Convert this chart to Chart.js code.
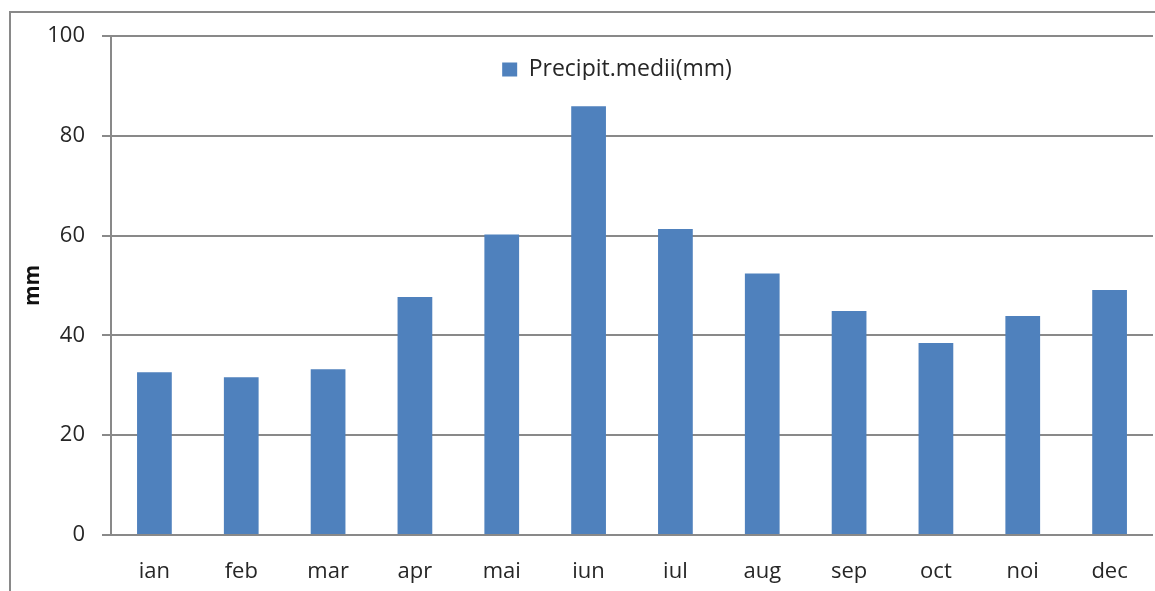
<!DOCTYPE html>
<html>
<head>
<meta charset="utf-8">
<script src="https://cdn.jsdelivr.net/npm/chart.js@4.4.1/dist/chart.umd.min.js"></script>
<style>
  html, body { margin: 0; padding: 0; background: #ffffff; }
  #wrap { width: 1155px; height: 591px; position: relative; }
</style>
</head>
<body>
<div id="wrap"><canvas id="c" width="1155" height="591"></canvas></div>
<script>
const categories = ['ian', 'feb', 'mar', 'apr', 'mai', 'iun', 'iul', 'aug', 'sep', 'oct', 'noi', 'dec'];
const precipitation = [32.6, 31.6, 33.2, 47.7, 60.2, 85.9, 61.3, 52.4, 44.9, 38.5, 43.9, 49.1];
const seriesLabel = 'Precipit.medii(mm)';
const yAxisTitle = 'mm';
const yTicks = [0, 20, 40, 60, 80, 100];

const FONT = '"Open Sans", "Noto Sans", sans-serif';
const GRAY = '#898989';
const TEXT = '#262626';

const frame = {
  id: 'frame',
  beforeDraw(chart) {
    const ctx = chart.ctx;
    ctx.save();
    ctx.strokeStyle = GRAY;
    ctx.lineWidth = 2;
    ctx.strokeRect(10, 12, 1400, 900);
    ctx.restore();
  }
};

// place the legend inside the plot area, as in the reference
const legendPlacer = {
  id: 'legendPlacer',
  beforeDraw(chart) {
    const lg = chart.legend;
    if (!lg) return;
    const w = lg.width, h = lg.height;
    const cx = 617;
    const top = 50;
    lg.left = cx - w / 2; lg.right = cx + w / 2;
    lg.top = top; lg.bottom = top + h;
  }
};

new Chart(document.getElementById('c'), {
  type: 'bar',
  data: {
    labels: categories,
    datasets: [{
      label: seriesLabel,
      data: precipitation,
      backgroundColor: '#4F81BD',
      borderColor: '#4F81BD',
      borderWidth: 0,
      categoryPercentage: 1.0,
      barPercentage: 0.4
    }]
  },
  options: {
    responsive: false,
    animation: false,
    devicePixelRatio: 1,
    layout: { padding: { left: 0, top: 6, right: 2, bottom: 0 } },
    plugins: {
      legend: {
        position: 'top',
        align: 'center',
        maxHeight: 30,
        labels: {
          font: { family: FONT, size: 23 },
          color: TEXT,
          boxWidth: 15,
          boxHeight: 14,
          padding: 8
        }
      },
      tooltip: { enabled: false }
    },
    scales: {
      x: {
        grid: { display: false, drawTicks: false },
        border: { display: false },
        ticks: {
          font: { family: FONT, size: 22 },
          color: TEXT,
          padding: 24
        },
        afterFit(scale) { scale.height = 56; }
      },
      y: {
        min: 0,
        max: 100,
        afterBuildTicks(scale) { scale.ticks = yTicks.map(v => ({ value: v })); },
        grid: {
          color: GRAY,
          lineWidth: 2,
          tickLength: 9,
          drawTicks: true
        },
        border: { display: true, color: GRAY, width: 2 },
        ticks: {
          font: { family: FONT, size: 22 },
          color: TEXT,
          padding: 17
        },
        title: {
          display: true,
          text: yAxisTitle,
          font: { family: FONT, size: 21, weight: 'bold' },
          color: '#111111',
          padding: { top: 20, bottom: 0 }
        },
        afterFit(scale) { scale.width = 111; }
      }
    }
  },
  plugins: [frame, legendPlacer]
});
</script>
</body>
</html>
